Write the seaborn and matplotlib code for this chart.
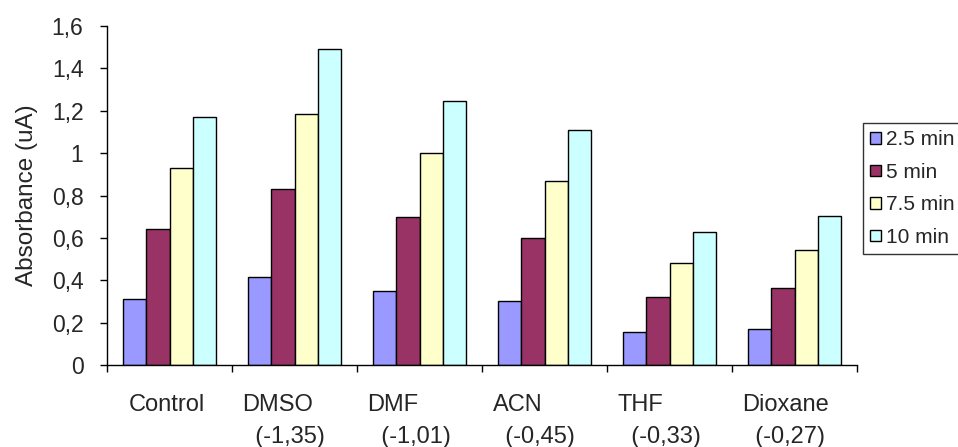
import matplotlib
matplotlib.use("Agg")
import matplotlib.pyplot as plt
import matplotlib.transforms as mtransforms
import seaborn as sns
import pandas as pd
import numpy as np

categories = ["Control", "DMSO", "DMF", "ACN", "THF", "Dioxane"]
sublabels = ["", "(-1,35)", "(-1,01)", "(-0,45)", "(-0,33)", "(-0,27)"]
series = ["2.5 min", "5 min", "7.5 min", "10 min"]
v_2_5 = [0.31, 0.415, 0.35, 0.30, 0.155, 0.17]
v_5 = [0.64, 0.83, 0.70, 0.60, 0.32, 0.365]
v_7_5 = [0.93, 1.185, 1.00, 0.87, 0.48, 0.545]
v_10 = [1.17, 1.49, 1.245, 1.11, 0.63, 0.705]
colors = ["#9999FF", "#993366", "#FFFFCC", "#CCFFFF"]
yticks = [0, 0.2, 0.4, 0.6, 0.8, 1.0, 1.2, 1.4, 1.6]
ytick_labels = ["0", "0,2", "0,4", "0,6", "0,8", "1", "1,2", "1,4", "1,6"]

rows = []
for s, vals in zip(series, [v_2_5, v_5, v_7_5, v_10]):
    for c, v in zip(categories, vals):
        rows.append({"Solvent": c, "Time": s, "Absorbance": v})
df = pd.DataFrame(rows)

sns.set_theme(style="white")
plt.rcParams["font.family"] = ["Liberation Sans", "DejaVu Sans"]

W, H = 958, 447
fig = plt.figure(figsize=(W / 100, H / 100), dpi=100)
ax = fig.add_axes([107 / W, 1 - 365 / H, (857 - 107) / W, (365 - 26) / H])

sns.barplot(data=df, x="Solvent", y="Absorbance", hue="Time", order=categories,
            hue_order=series, palette=colors, edgecolor="black", linewidth=1.0,
            width=0.74, gap=0, saturation=1, ax=ax, legend=True)

ax.set_xlim(-0.5, len(categories) - 0.5)
ax.set_ylim(0, 1.6)
ax.set_yticks(yticks)
ax.set_yticklabels(ytick_labels, fontsize=16.5)
ax.set_ylabel("Absorbance (uA)", fontsize=17.5, labelpad=10)
ax.set_xlabel("")

for sp in ["top", "right"]:
    ax.spines[sp].set_visible(False)
for sp in ["left", "bottom"]:
    ax.spines[sp].set_color("black")
    ax.spines[sp].set_linewidth(1.0)

ax.tick_params(axis="y", which="major", direction="out", length=5, width=1, color="black", left=True, pad=12)
ax.set_xticks(np.arange(len(categories)))
labels = [c if not s else f"{c}\n  {s}" for c, s in zip(categories, sublabels)]
ax.set_xticklabels(labels, fontsize=17, linespacing=1.55, ha="left", va="top")
ax.tick_params(axis="x", which="major", length=0, pad=21)
ax.set_xticks(np.arange(-0.5, len(categories), 1.0), minor=True)
ax.tick_params(axis="x", which="minor", direction="out", length=5, width=1, color="black", bottom=True)

for i, lab in enumerate(ax.get_xticklabels()):
    dx = -41 if i == 0 else -52
    lab.set_transform(lab.get_transform() + mtransforms.ScaledTranslation(dx / 100, 0, fig.dpi_scale_trans))

leg = ax.legend(loc="upper left", bbox_to_anchor=(863 / W, 1 - 123 / H), bbox_transform=fig.transFigure,
                frameon=True, fancybox=False, shadow=False, fontsize=15, handlelength=0.5,
                handleheight=0.5, handletextpad=0.25, labelspacing=0.65, borderpad=0.35,
                borderaxespad=0)
leg.get_frame().set_edgecolor("black")
leg.get_frame().set_linewidth(1.0)

fig.savefig("out.png", dpi=100)
